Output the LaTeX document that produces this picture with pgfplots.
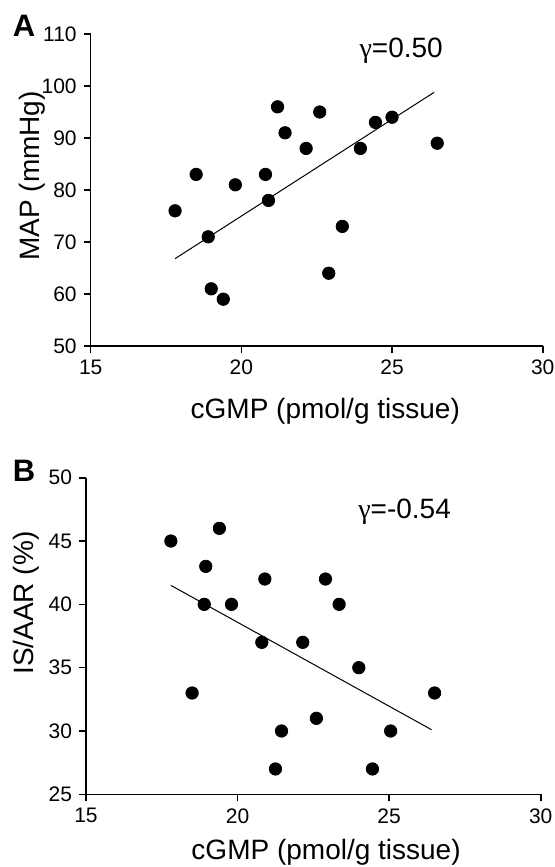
\documentclass[border=0pt]{standalone}
\usepackage{fontspec}
\setmainfont{Liberation Sans}
\newfontfamily\greekserif{Liberation Serif}
\usepackage{pgfplots}
\pgfplotsset{compat=1.18}

\newcommand{\tickfont}{\fontsize{10.5}{12}\selectfont}
\newcommand{\labfont}{\fontsize{14}{16}\selectfont}

\pgfplotsset{
  panel/.style={
    scale only axis,
    anchor=south west,
    axis x line=bottom,
    axis y line=left,
    axis line style={-, line width=0.8pt},
    tick align=outside,
    major tick length=3.5pt,
    tick style={black, line width=0.8pt},
    xmin=15, xmax=30,
    xtick={15,20,25,30},
    /pgf/number format/assume math mode=true,
    tick label style={font=\tickfont},
    clip=false,
  },
  dots/.style={only marks, mark=*, mark size=3.1pt, black},
  fit/.style={no marks, black, line width=0.5pt},
}

\begin{document}
\begin{tikzpicture}
\useasboundingbox (0,0) rectangle (277pt,-433.5pt);

% panel A
\node[font=\bfseries\fontsize{15.5}{17}\selectfont] at (12pt,-13pt) {A};
\begin{axis}[panel,
    at={(45.35pt,-173pt)}, width=226pt, height=156pt,
    ymin=50, ymax=110, ytick={50,60,...,110},
  ]
\addplot[dots] coordinates {
  (17.8,76) (18.5,83) (18.9,71) (19.0,61) (19.4,59) (19.8,81)
  (20.8,83) (20.9,78) (21.2,96) (21.45,91) (22.15,88) (22.6,95)
  (22.9,64) (23.35,73) (23.95,88) (24.45,93) (25.0,94) (26.5,89)
};
\addplot[fit] coordinates {(17.8,66.8) (26.4,98.8)};
\node[font=\labfont, anchor=base west, inner sep=0pt] at (axis cs:23.91,105.4) {{\greekserif γ}=0.50};
\node[font=\labfont, anchor=base] at ([yshift=-36pt]rel axis cs:0.519,0) {cGMP (pmol/g tissue)};
\node[font=\labfont, rotate=90] at ([xshift=-29.35pt]rel axis cs:0,0.545) {MAP (mmHg)};
\end{axis}

% panel B
\node[font=\bfseries\fontsize{15.5}{17}\selectfont] at (12pt,-235.5pt) {B};
\begin{axis}[panel,
    at={(43pt,-397.15pt)}, width=227.35pt, height=158.3pt,
    ymin=25, ymax=50, ytick={25,30,...,50},
  ]
\addplot[dots] coordinates {
  (17.8,45) (18.5,33) (18.95,43) (18.9,40) (19.4,46) (19.8,40)
  (20.8,37) (20.9,42) (21.25,27) (21.45,30) (22.15,37) (22.6,31)
  (22.9,42) (23.35,40) (24.0,35) (24.45,27) (25.05,30) (26.5,33)
};
\addplot[fit] coordinates {(17.8,41.5) (26.4,30.1)};
\node[font=\labfont, anchor=base west, inner sep=0pt] at (axis cs:23.97,46.8) {{\greekserif γ}=-0.54};
\node[font=\labfont, anchor=base] at ([yshift=-32.8pt]rel axis cs:0.528,0) {cGMP (pmol/g tissue)};
\node[font=\labfont, rotate=90] at ([xshift=-30pt]rel axis cs:0,0.604) {IS/AAR (\%)};
\end{axis}
\end{tikzpicture}
\end{document}
